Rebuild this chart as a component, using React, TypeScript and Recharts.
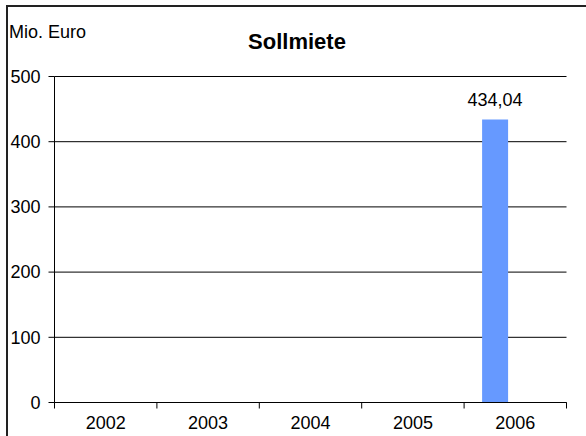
import React from 'react';
import { BarChart, Bar, XAxis, YAxis, CartesianGrid, LabelList } from 'recharts';

const categories = ['2002', '2003', '2004', '2005', '2006'];
const sollmiete: (number | null)[] = [null, null, null, null, 434.04];
const leer: (number | null)[] = [null, null, null, null, null];
const yTicks = [0, 100, 200, 300, 400, 500];

const data = categories.map((jahr, i) => ({ jahr, sollmiete: sollmiete[i], leer: leer[i] }));

const FONT = '"Liberation Sans", Arial, sans-serif';
const tickStyle = { fill: '#000', fontSize: 18, fontFamily: FONT };
const X_TICK_MARGIN = 14;
const X_TICK_LEN = 6;

const fmt = (v: any) => (v == null || v === '' ? '' : Number(v).toFixed(2).replace('.', ','));

const CatTick = (props: any) => {
  const { x, y, payload, index, visibleTicksCount, width } = props;
  const count = visibleTicksCount || categories.length;
  const band = (Number(width) || 512) / count;
  const axisY = y - X_TICK_MARGIN;
  const left = x - band / 2;
  const right = x + band / 2;
  return (
    <g>
      <line x1={left} x2={left} y1={axisY} y2={axisY + X_TICK_LEN} stroke="#000" />
      {index === count - 1 && <line x1={right} x2={right} y1={axisY} y2={axisY + X_TICK_LEN} stroke="#000" />}
      <text x={x} y={y} dy="0.71em" textAnchor="middle" fill="#000" fontSize={18} fontFamily={FONT}>
        {payload.value}
      </text>
    </g>
  );
};

export default function App() {
  return (
    <div style={{ position: 'absolute', left: 0, top: 0, width: 586, height: 436, background: '#fff', fontFamily: FONT, overflow: 'hidden' }}>
      <div
        style={{
          position: 'absolute',
          left: 6,
          top: 5,
          width: 600,
          height: 450,
          borderTop: '2px solid #222',
          borderLeft: '2px solid #222',
          boxSizing: 'border-box',
        }}
      />
      <div style={{ position: 'absolute', left: 0, top: 0 }}>
        <BarChart
          width={586}
          height={436}
          data={data}
          margin={{ top: 76.5, right: 19.5, bottom: 0, left: 0 }}
          barGap={0}
        >
          <XAxis
            dataKey="jahr"
            height={33.5}
            axisLine={{ stroke: '#000' }}
            tickLine={false}
            tickSize={0}
            tickMargin={X_TICK_MARGIN}
            interval={0}
            tick={<CatTick />}
          />
          <YAxis
            width={54.5}
            domain={[0, 500]}
            ticks={yTicks}
            interval={0}
            axisLine={{ stroke: '#000' }}
            tickLine={{ stroke: '#000' }}
            tickSize={6}
            tickMargin={8}
            tick={tickStyle}
          />
          <CartesianGrid vertical={false} stroke="#000" strokeOpacity={1} />
          <Bar dataKey="sollmiete" fill="#6699FF" barSize={26} isAnimationActive={false}>
            <LabelList
              dataKey="sollmiete"
              position="top"
              offset={14}
              formatter={fmt}
              style={{ fill: '#000', fontSize: 18, fontFamily: FONT }}
            />
          </Bar>
          <Bar dataKey="leer" fill="transparent" barSize={40} isAnimationActive={false} />
        </BarChart>
      </div>
      <svg width={586} height={436} style={{ position: 'absolute', left: 0, top: 0, pointerEvents: 'none' }}>
        <text x={9} y={38} fontSize={18} fontFamily={FONT} fill="#000">Mio. Euro</text>
        <text x={297} y={49} fontSize={22} fontWeight="bold" fontFamily={FONT} fill="#000" textAnchor="middle">Sollmiete</text>
      </svg>
    </div>
  );
}
